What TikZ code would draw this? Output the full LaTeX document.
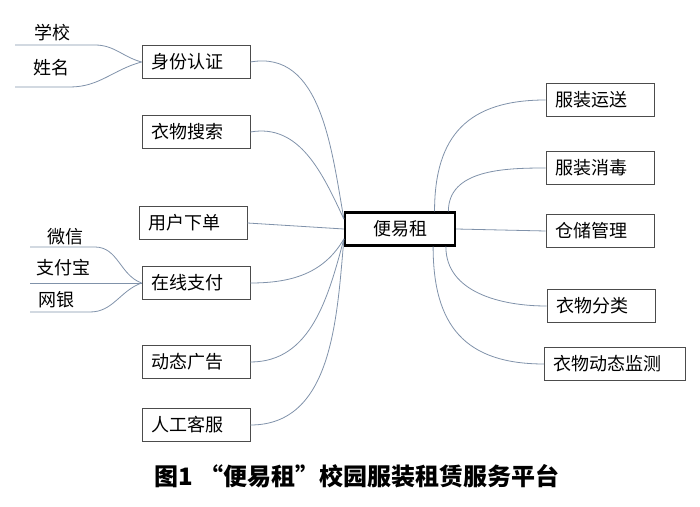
\documentclass[tikz,border=0pt]{standalone}
\usepackage{fontspec}
\newfontfamily\cjk{Noto Sans CJK SC}
\usetikzlibrary{shapes}
\definecolor{linkgray}{RGB}{128,146,170}
\newcommand{\zlbox}[3] {\node at (#1) (#2) [rectangle, draw=black!70, line width=0.9pt, text width=90pt, inner xsep=9pt, minimum height=33pt, align=left, font=\cjk\fontsize{18}{18}\selectfont] {#3};}
\newcommand{\zlwidebox}[3] {\node at (#1) (#2) [rectangle, draw=black!70, line width=0.9pt, text width=123pt, inner xsep=9pt, minimum height=33pt, align=left, font=\cjk\fontsize{18}{18}\selectfont] {#3};}
\newcommand{\zlhub}[3] {\node at (#1) (#2) [rectangle, draw, line width=2.2pt, minimum width=110pt, minimum height=33pt, font=\cjk\fontsize{18}{18}\selectfont] {#3};}
\newcommand{\zlword}[3] {\node at (#1) (#2) [font=\cjk\fontsize{18}{18}\selectfont] {#3};}
\newcommand{\zllink}[4] {\draw [linkgray, line width=0.8pt] (#1) to [out=#3, in=#4] (#2);}
\newcommand{\zlbend}[4] {\draw [linkgray, line width=0.8pt] (#1) to [out=#3, in=#4, looseness=1.25] (#2);}
\newcommand{\zlleaf}[4] {\draw [linkgray, line width=0.8pt] (#1) -- ++(#3,0) to [out=0, in=#4] (#2);}

\begin{document}
\begin{tikzpicture}[x=1pt, y=1pt]
\useasboundingbox (0,0) rectangle (700,506);

\zlhub {400,277}{hub}{便易租}

\zlbox {196,444}{ident}{身份认证}
\zlbox {196,374}{search}{衣物搜索}
\zlbox {193,283}{order}{用户下单}
\zlbox {196,223}{pay}{在线支付}
\zlbox {196,144}{ads}{动态广告}
\zlbox {196,81}{service}{人工客服}

\zlbox {600,406}{ship}{服装运送}
\zlbox {600,338}{clean}{服装消毒}
\zlbox {600,275}{store}{仓储管理}
\zlbox {601,200}{sort}{衣物分类}
\zlwidebox {615,142}{monitor}{衣物动态监测}

\zlword {52,473}{school}{学校}
\zlword {51,438}{name}{姓名}
\coordinate (school1) at (15,461);
\coordinate (name1) at (15,419);
\zlleaf {school1}{ident.west}{80}{165}
\zlleaf {name1}{ident.west}{55}{195}

\zlword {65,269}{wechat}{微信}
\zlword {63,238}{alipay}{支付宝}
\zlword {56,206}{bank}{网银}
\coordinate (wechat1) at (30,259);
\coordinate (alipay1) at (30,223);
\coordinate (bank1) at (30,194);
\zlleaf {wechat1}{pay.west}{65}{160}
\draw [linkgray, line width=0.8pt] (alipay1) -- (pay.west);
\zlleaf {bank1}{pay.west}{60}{200}

\zllink {ident.east}{hub.170}{10}{100}
\zllink {search.east}{hub.170}{10}{115}
\draw [linkgray, line width=0.8pt] (order.east) -- (hub.west);
\zllink {pay.east}{hub.190}{0}{240}
\zllink {ads.east}{hub.190}{0}{255}
\zllink {service.east}{hub.190}{0}{265}

\zlbend {hub.27}{ship.west}{90}{180}
\zllink {hub.20}{clean.west}{90}{180}
\draw [linkgray, line width=0.8pt] (hub.east) -- (store.west);
\zllink {hub.-21}{sort.west}{-90}{180}
\zlbend {hub.-28}{monitor.west}{-90}{180}

\node at (357,30) (caption) [font=\cjk\bfseries\fontsize{24}{24}\selectfont] {图1\hspace{6pt}“便易租”校园服装租赁服务平台};

\end{tikzpicture}
\end{document}
